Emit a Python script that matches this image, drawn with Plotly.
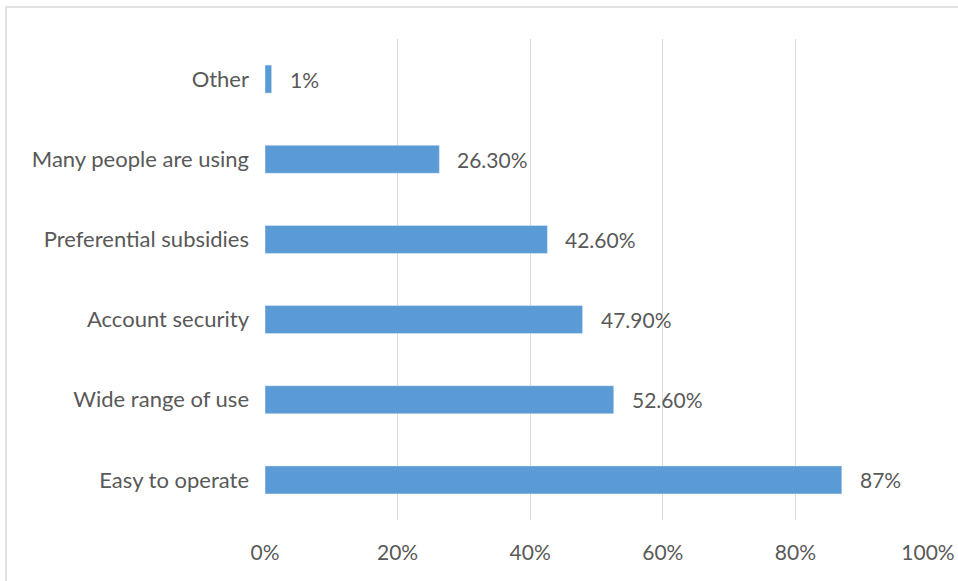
import plotly.graph_objects as go

categories = ["Easy to operate", "Wide range of use", "Account security",
              "Preferential subsidies", "Many people are using", "Other"]
values = [87, 52.6, 47.9, 42.6, 26.3, 1]
labels = ["87%", "52.60%", "47.90%", "42.60%", "26.30%", "1%"]
tick_vals = [0, 20, 40, 60, 80, 100]
tick_text = ["0%", "20%", "40%", "60%", "80%", "100%"]

font_family = "Lato, Open Sans, sans-serif"
gray = "#595959"
fsize = 21

fig = go.Figure(go.Bar(
    x=values, y=categories, orientation="h",
    marker=dict(color="#5B9BD5"), width=0.35,
    hoverinfo="skip",
))

for c, v, t in zip(categories, values, labels):
    fig.add_annotation(x=v, y=c, text=t, showarrow=False, xanchor="left",
                       xshift=16, font=dict(family=font_family, size=fsize, color=gray))

W, H = 958, 581
l, r, t, b = 265, 30, 39, 61
pw, ph = W - l - r, H - t - b
fig.add_shape(type="rect", xref="paper", yref="paper",
              x0=(6 - l) / pw, x1=(W + 10 - l) / pw,
              y0=-(H + 10 - (H - b)) / ph, y1=((H - b) - 7) / ph,
              line=dict(color="#d9d9d9", width=1.5), fillcolor="rgba(0,0,0,0)", layer="below")

fig.update_layout(
    width=W, height=H,
    margin=dict(l=l, r=r, t=t, b=b, pad=0, autoexpand=False),
    paper_bgcolor="white", plot_bgcolor="white",
    showlegend=False,
    font=dict(family=font_family, size=fsize, color=gray),
    xaxis=dict(range=[0, 100], tickvals=tick_vals, ticktext=tick_text,
               showgrid=True, gridcolor="#d9d9d9", gridwidth=1,
               zeroline=False, showline=False, ticks="", ticklabelstandoff=18,
               fixedrange=True, automargin=False),
    yaxis=dict(showgrid=False, zeroline=False, showline=False, ticks="",
               ticklabelstandoff=15, range=[-0.5, 5.5], fixedrange=True,
               automargin=False, tickfont=dict(size=22)),
)

fig.write_html("out.html", config={"displayModeBar": False},
               post_script="document.body.style.margin='0';document.body.style.overflow='hidden';")
